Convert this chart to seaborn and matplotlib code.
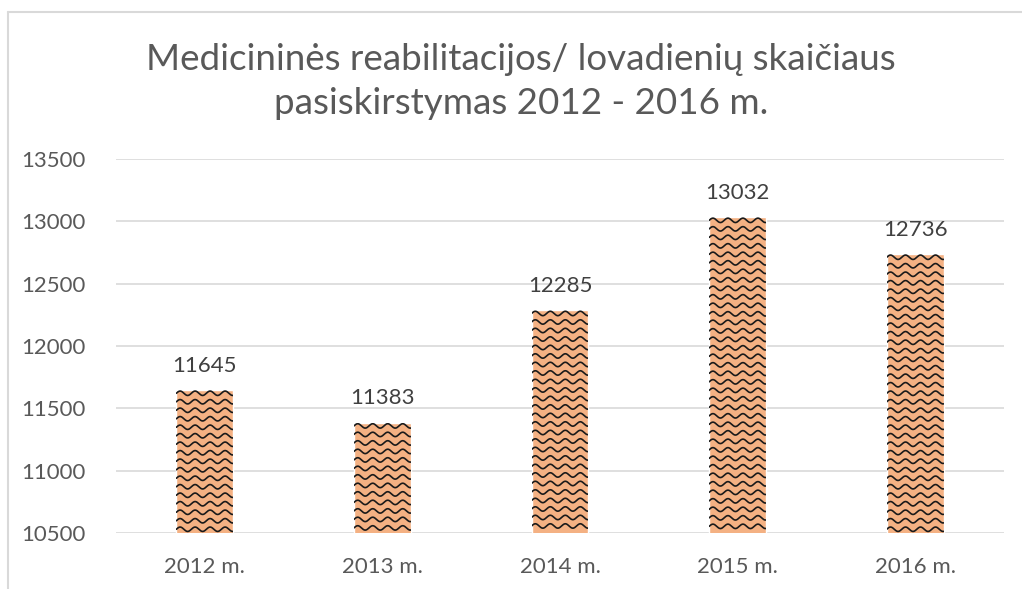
import numpy as np
import pandas as pd
import matplotlib
matplotlib.use("Agg")
import matplotlib.pyplot as plt
import seaborn as sns
from matplotlib.lines import Line2D

# duomenys
metai = ["2012 m.", "2013 m.", "2014 m.", "2015 m.", "2016 m."]
lovadieniai = [11645, 11383, 12285, 13032, 12736]

df = pd.DataFrame({"metai": metai, "lovadieniai": lovadieniai})

sns.set_theme(style="white")
plt.rcParams['font.family'] = ['Lato', 'DejaVu Sans']

fig = plt.figure(figsize=(10.22, 5.89), dpi=100)
W, H = 1022, 589
ax = fig.add_axes([116 / W, (H - 533) / H, (1004 - 116) / W, (533 - 159) / H])

sns.barplot(data=df, x="metai", y="lovadieniai", color="#F4B183",
            width=0.32, saturation=1, ax=ax, zorder=2)

ax.set_ylim(10500, 13500)
ax.set_yticks(range(10500, 13501, 500))
ax.set_xlim(-0.5, 4.5)
ax.set_xlabel("")
ax.set_ylabel("")
for s in ax.spines.values():
    s.set_visible(False)
ax.grid(axis="y", color="#D9D9D9", lw=1.2, zorder=0)
ax.tick_params(axis="both", length=0, labelsize=16, colors="#595959")
ax.tick_params(axis="y", pad=22)
ax.tick_params(axis="x", pad=17)

# banguotas raštas ant stulpelių
ymin = ax.get_ylim()[0]
px_x = (W * ax.get_position().width) / 5.0      # px per kategorija
px_y = (H * ax.get_position().height) / 3000.0  # px per vienetą
for p in ax.patches:
    x0 = p.get_x()
    x1 = x0 + p.get_width()
    y1 = p.get_y() + p.get_height()
    xs = np.linspace(x0, x1, 200)
    step = 8.5 / px_y
    amp = 2.2 / px_y
    per = 15.0 / px_x
    yy = y1 - 3 / px_y
    while yy > ymin + amp:
        ys = yy + amp * np.sin(2 * np.pi * (xs - x0) / per)
        ln, = ax.plot(xs, ys, color="#1a1a1a", lw=1.2, zorder=3)
        ln.set_clip_path(p)
        yy -= step

for i, v in enumerate(lovadieniai):
    ax.annotate(str(v), (i, v), xytext=(0, 10.5), textcoords="offset points",
                ha="center", va="bottom", fontsize=16, color="#404040")

fig.text(521 / W, (H - 60) / H, "Medicininės reabilitacijos/ lovadienių skaičiaus",
         ha="center", va="center", fontsize=26.5, color="#595959")
fig.text(521 / W, (H - 103) / H, "pasiskirstymas 2012 - 2016 m.",
         ha="center", va="center", fontsize=26.5, color="#595959")

# diagramos rėmelis
fig.add_artist(Line2D([8 / W, 8 / W], [0, (H - 12) / H], transform=fig.transFigure,
                      color="#D9D9D9", lw=1.5))
fig.add_artist(Line2D([8 / W, 1], [(H - 12) / H, (H - 12) / H], transform=fig.transFigure,
                      color="#D9D9D9", lw=1.5))

fig.savefig("out.png", dpi=100)
